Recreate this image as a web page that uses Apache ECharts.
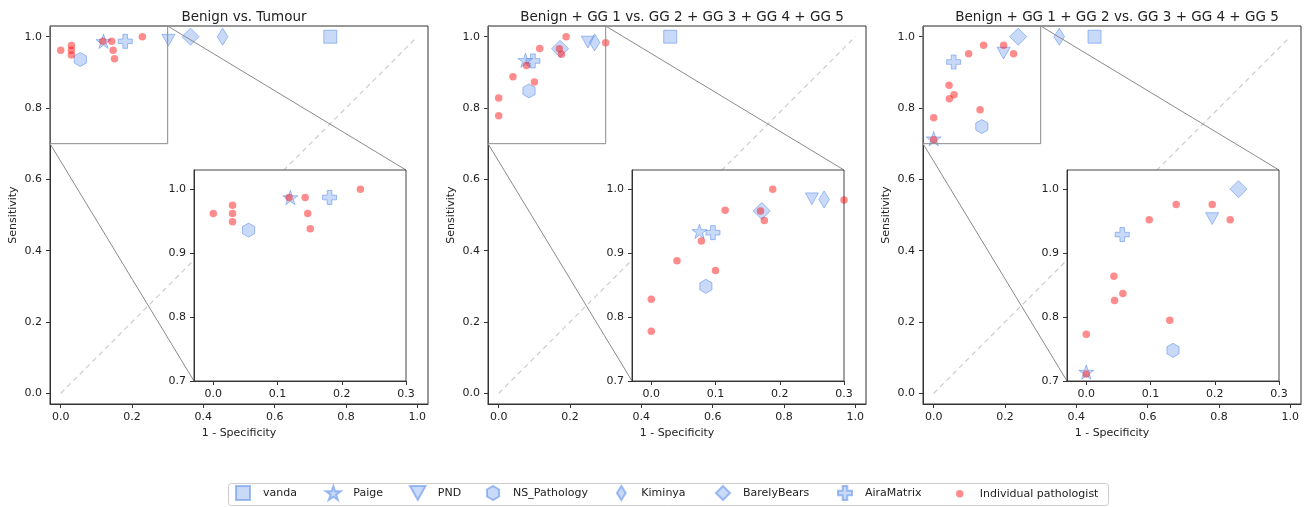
<!DOCTYPE html>
<html><head><meta charset="utf-8">
<script src="https://cdn.jsdelivr.net/npm/echarts@6/dist/echarts.min.js"></script>
<style>html,body{margin:0;padding:0;background:#fff}#c{width:1308px;height:507px}</style>
</head><body><div id="c"></div>
<script>
// ---------------- data ----------------
const panelTitles = ['Benign vs. Tumour', 'Benign + GG 1 vs. GG 2 + GG 3 + GG 4 + GG 5', 'Benign + GG 1 + GG 2 vs. GG 3 + GG 4 + GG 5'];
const mainTicks = [0, 0.2, 0.4, 0.6, 0.8, 1.0];
const insetXTicks = [0, 0.1, 0.2, 0.3];
const insetYTicks = [0.7, 0.8, 0.9, 1.0];
const mainRange = [-0.03, 1.03];
const insetXRange = [-0.03, 0.3];
const insetYRange = [0.7, 1.03];
const chanceLine = [0, 1];

const algorithms = ['vanda', 'Paige', 'PND', 'NS_Pathology', 'Kiminya', 'BarelyBears', 'AiraMatrix'];
// 1 - specificity and sensitivity, in the order of `algorithms`
const algoFPR1 = [0.756, 0.120, 0.302, 0.055, 0.454, 0.364, 0.181];
const algoSens1 = [1.000, 0.987, 0.990, 0.936, 1.000, 1.000, 0.987];
const algoFPR2 = [0.481, 0.075, 0.250, 0.085, 0.269, 0.172, 0.096];
const algoSens2 = [1.000, 0.934, 0.985, 0.848, 0.984, 0.966, 0.932];
const algoFPR3 = [0.451, 0.000, 0.196, 0.135, 0.352, 0.237, 0.056];
const algoSens3 = [1.000, 0.714, 0.954, 0.748, 1.000, 1.000, 0.929];

const pathName = 'Individual pathologist';
const pathFPR1 = [0.000, 0.030, 0.030, 0.030, 0.118, 0.143, 0.147, 0.151, 0.229];
const pathSens1 = [0.962, 0.975, 0.962, 0.949, 0.987, 0.987, 0.962, 0.938, 1.000];
const pathFPR2 = [0.000, 0.000, 0.040, 0.078, 0.100, 0.115, 0.170, 0.176, 0.189, 0.300];
const pathSens2 = [0.828, 0.778, 0.888, 0.919, 0.873, 0.967, 0.966, 0.951, 1.000, 0.983];
const pathFPR3 = [0.000, 0.000, 0.043, 0.044, 0.057, 0.098, 0.130, 0.140, 0.196, 0.224];
const pathSens3 = [0.773, 0.711, 0.864, 0.826, 0.837, 0.952, 0.795, 0.976, 0.976, 0.952];

const legendNames = algorithms.concat([pathName]);

// ---------------- styles ----------------
const FONT = 'DejaVu Sans';
const TXT = '#222';
const algoFill = 'rgba(100,149,237,0.35)';
const algoEdge = 'rgba(100,149,237,0.6)';
const pathFill = 'rgba(255,0,0,0.45)';
const SYM = {
  vanda: {symbol: 'path://M-1,-1 L1,-1 L1,1 L-1,1 Z', size: 13},
  Paige: {symbol: 'path://M0,-1 L0.2245,-0.309 L0.951,-0.309 L0.363,0.118 L0.588,0.809 L0,0.382 L-0.588,0.809 L-0.363,0.118 L-0.951,-0.309 L-0.2245,-0.309 Z', size: 15},
  PND: {symbol: 'path://M-1,-0.9 L1,-0.9 L0,0.9 Z', size: 13},
  NS_Pathology: {symbol: 'path://M0,-1 L0.866,-0.5 L0.866,0.5 L0,1 L-0.866,0.5 L-0.866,-0.5 Z', size: 14},
  Kiminya: {symbol: 'path://M0,-1 L0.62,0 L0,1 L-0.62,0 Z', size: 17},
  BarelyBears: {symbol: 'path://M0,-1 L1,0 L0,1 L-1,0 Z', size: 17},
  AiraMatrix: {symbol: 'path://M-0.33,-1 L0.33,-1 L0.33,-0.33 L1,-0.33 L1,0.33 L0.33,0.33 L0.33,1 L-0.33,1 L-0.33,0.33 L-1,0.33 L-1,-0.33 L-0.33,-0.33 Z', size: 14}
};
// legend item left edges (layout)
const legendLefts = [235, 325, 409, 486, 616, 715, 837, 956];

const algoFPR = [algoFPR1, algoFPR2, algoFPR3];
const algoSens = [algoSens1, algoSens2, algoSens3];
const pathFPR = [pathFPR1, pathFPR2, pathFPR3];
const pathSens = [pathSens1, pathSens2, pathSens3];

const mainLeft = [50, 488, 923];
const mainTop = 26, mainSize = 378;
const insetDX = 144, insetTop = 170, insetW = 212, insetH = 211;

function mkAxis(dim, gi, range, ticks, name, z) {
  return {
    type: 'value', gridIndex: gi, min: range[0], max: range[1], z: z,
    name: name, nameLocation: 'middle', nameGap: dim === 'x' ? 24 : 31,
    nameTextStyle: {fontFamily: FONT, fontSize: 11, color: TXT},
    axisLine: {show: true, onZero: false, lineStyle: {color: '#333', width: 1}},
    axisTick: {show: true, length: 4, customValues: ticks, lineStyle: {color: '#333'}},
    axisLabel: {customValues: ticks, formatter: v => v.toFixed(1), margin: 8, fontFamily: FONT, fontSize: 11, color: TXT},
    splitLine: {show: false}
  };
}

const grids = [], xAxes = [], yAxes = [], series = [], titles = [];
for (let p = 0; p < 3; p++) {
  grids.push({left: mainLeft[p], top: mainTop, width: mainSize, height: mainSize, show: true, borderColor: '#333', borderWidth: 1, z: 0});
  grids.push({left: mainLeft[p] + insetDX, top: insetTop, width: insetW, height: insetH, show: true, borderColor: '#444', borderWidth: 1, backgroundColor: '#fff', z: 10});
  xAxes.push(mkAxis('x', 2 * p, mainRange, mainTicks, '1 - Specificity', 0));
  yAxes.push(mkAxis('y', 2 * p, mainRange, mainTicks, 'Sensitivity', 0));
  xAxes.push(mkAxis('x', 2 * p + 1, insetXRange, insetXTicks, '', 11));
  yAxes.push(mkAxis('y', 2 * p + 1, insetYRange, insetYTicks, '', 11));
  titles.push({text: panelTitles[p], left: mainLeft[p] + mainSize / 2, top: 5, textAlign: 'center',
    textStyle: {fontFamily: FONT, fontSize: 13.5, fontWeight: 'normal', color: TXT}});

  series.push({type: 'line', xAxisIndex: 2 * p, yAxisIndex: 2 * p, silent: true, symbol: 'none', z: 1,
    data: [[chanceLine[0], chanceLine[0]], [chanceLine[1], chanceLine[1]]],
    lineStyle: {type: [5, 4], color: '#cccccc', width: 1.2}});

  for (let k = 0; k < 2; k++) {
    const ai = 2 * p + k;
    algorithms.forEach((a, i) => {
      series.push({type: 'scatter', name: a, xAxisIndex: ai, yAxisIndex: ai, z: k ? 12 : 2,
        symbol: SYM[a].symbol, symbolSize: SYM[a].size, symbolKeepAspect: true,
        itemStyle: {color: algoFill, borderColor: algoEdge, borderWidth: 1, opacity: 1},
        data: [[algoFPR[p][i], algoSens[p][i]]]});
    });
    series.push({type: 'scatter', name: pathName, xAxisIndex: ai, yAxisIndex: ai, z: k ? 13 : 3,
      symbol: 'circle', symbolSize: 7.5,
      itemStyle: {color: pathFill, borderWidth: 0, opacity: 1},
      data: pathFPR[p].map((x, j) => [x, pathSens[p][j]])});
  }
}

const legendText = {fontFamily: FONT, fontSize: 11, color: TXT};
const legends = legendNames.map((n, i) => {
  const isPath = n === pathName;
  return {data: [n], left: legendLefts[i], top: isPath ? 488.25 : 485, padding: 0,
    itemWidth: 30, itemHeight: isPath ? 7.5 : 14, symbolKeepAspect: true,
    textStyle: legendText, selectedMode: false};
});

const option = {
  animation: false,
  backgroundColor: '#fff',
  title: titles,
  grid: grids, xAxis: xAxes, yAxis: yAxes, series: series,
  legend: legends
};
const chart = echarts.init(document.getElementById('c'));
chart.setOption(option);

// inset indicator and connectors from the inset axis limits
const graphics = [{type: 'rect', left: 226, top: 481, shape: {width: 880, height: 22, r: 3}, style: {fill: 'none', stroke: '#cccccc', lineWidth: 1}, z: 0, silent: true}];
for (let p = 0; p < 3; p++) {
  const m = {xAxisIndex: 2 * p, yAxisIndex: 2 * p};
  const ins = {xAxisIndex: 2 * p + 1, yAxisIndex: 2 * p + 1};
  const bl = chart.convertToPixel(m, [insetXRange[0], insetYRange[0]]);
  const tr = chart.convertToPixel(m, [insetXRange[1], insetYRange[1]]);
  const ibl = chart.convertToPixel(ins, [insetXRange[0], insetYRange[0]]);
  const itr = chart.convertToPixel(ins, [insetXRange[1], insetYRange[1]]);
  const ls = {stroke: '#8a8a8a', lineWidth: 1, fill: 'none'};
  graphics.push({type: 'rect', shape: {x: bl[0], y: tr[1], width: tr[0] - bl[0], height: bl[1] - tr[1]}, style: ls, z: 5, silent: true});
  graphics.push({type: 'line', shape: {x1: bl[0], y1: bl[1], x2: ibl[0], y2: ibl[1]}, style: ls, z: 5, silent: true});
  graphics.push({type: 'line', shape: {x1: tr[0], y1: tr[1], x2: itr[0], y2: itr[1]}, style: ls, z: 5, silent: true});
}
chart.setOption({graphic: graphics});
</script></body></html>
